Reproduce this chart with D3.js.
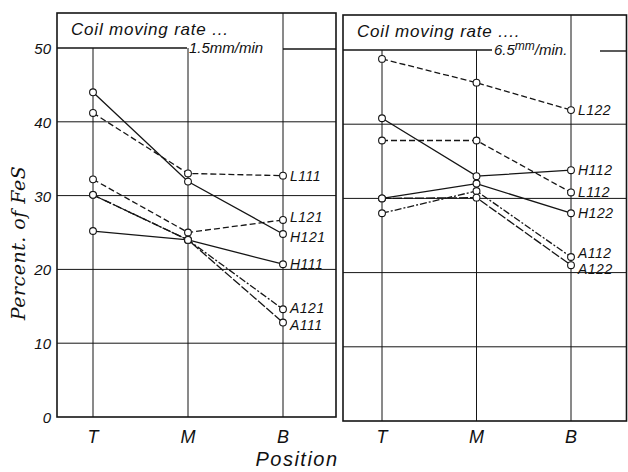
<!DOCTYPE html>
<html>
<head>
<meta charset="utf-8">
<script src="https://cdn.jsdelivr.net/npm/d3@7"></script>
<style>
  body { margin: 0; background: #fff; }
  svg { display: block; }
  text { fill: #111; }
</style>
</head>
<body>
<script>
// positions along the coil
const positions = ["T", "M", "B"];
const yTicks = [0, 10, 20, 30, 40, 50];

// coil moving rate 1.5 mm/min
const leftNames = ["L111", "H121", "L121", "H111", "A121", "A111"];
const leftValues = [
  [41.2, 33.0, 32.7],
  [44.0, 31.9, 24.8],
  [32.2, 25.0, 26.7],
  [25.2, 24.0, 20.7],
  [30.1, 24.0, 14.6],
  [30.1, 24.0, 12.8]
];

// coil moving rate 6.5 mm/min
const rightNames = ["L122", "H112", "L112", "H122", "A112", "A122"];
const rightValues = [
  [48.8, 45.6, 41.9],
  [40.8, 33.0, 33.8],
  [37.8, 37.8, 30.8],
  [30.0, 32.0, 28.0],
  [28.0, 31.0, 22.1],
  [30.0, 30.1, 21.0]
];

const dash = {
  L111: "6,3", L121: "6,3", L122: "6,3", L112: "6,3",
  H111: null, H121: null, H112: null, H122: null,
  A121: "7,2,2,2", A111: "9,2", A112: "7,2,2,2", A122: "9,2"
};

// small vertical nudges so the end labels don't collide
const labelShift = { L121: -3, H121: 3, A121: -1, A111: 2, A112: -4, A122: 4 };

const svg = d3.select("body").append("svg")
  .attr("width", 628)
  .attr("height", 472);

const ink = "#151515";
const hand = "'Liberation Sans', 'DejaVu Sans', sans-serif";

function panel(opt) {
  const x = d3.scalePoint().domain(positions).range([opt.t, opt.b]);
  const y = d3.scaleLinear().domain([0, 50]).range([opt.bottom, opt.top50]);
  const g = svg.append("g");

  // horizontal grid lines 10..40
  g.selectAll(".hg").data(yTicks.filter(d => d > 0 && d < 50)).enter()
    .append("line")
    .attr("x1", opt.left).attr("x2", opt.right)
    .attr("y1", d => y(d)).attr("y2", d => y(d))
    .attr("stroke", ink).attr("stroke-width", 1);

  // vertical grid lines (B runs through the header box)
  g.selectAll(".vg").data(positions).enter()
    .append("line")
    .attr("x1", d => x(d)).attr("x2", d => x(d))
    .attr("y1", d => d === "B" ? opt.top : y(50))
    .attr("y2", opt.bottom)
    .attr("stroke", ink).attr("stroke-width", 1);

  // header line at 50, broken by the rate text
  g.append("line")
    .attr("x1", opt.left).attr("x2", opt.gap[0])
    .attr("y1", y(50)).attr("y2", y(50))
    .attr("stroke", ink).attr("stroke-width", 1.4);
  g.append("line")
    .attr("x1", opt.gap[1]).attr("x2", opt.right)
    .attr("y1", y(50) + 1).attr("y2", y(50) + 1)
    .attr("stroke", ink).attr("stroke-width", 1.4);

  // frame
  g.append("rect")
    .attr("x", opt.left).attr("y", opt.top)
    .attr("width", opt.right - opt.left).attr("height", opt.bottom - opt.top)
    .attr("fill", "none").attr("stroke", ink).attr("stroke-width", 1.6);

  g.append("text")
    .attr("x", opt.left + 14).attr("y", opt.top + 22)
    .attr("font-family", hand).attr("font-style", "italic")
    .attr("font-size", 17).attr("letter-spacing", 0.8)
    .text(opt.title);

  g.append("text")
    .attr("x", opt.gap[0] + 2).attr("y", y(50) + 5)
    .attr("font-family", hand).attr("font-style", "italic")
    .attr("font-size", 15)
    .html(opt.rate);

  const line = d3.line().x((d, i) => x(positions[i])).y(d => y(d));

  opt.names.forEach((name, k) => {
    const vals = opt.values[k];
    g.append("path")
      .attr("d", line(vals))
      .attr("fill", "none")
      .attr("stroke", ink)
      .attr("stroke-width", 1.3)
      .attr("stroke-dasharray", dash[name]);
  });

  opt.names.forEach((name, k) => {
    const vals = opt.values[k];
    g.selectAll(null).data(vals).enter()
      .append("circle")
      .attr("cx", (d, i) => x(positions[i]))
      .attr("cy", d => y(d))
      .attr("r", 3.4)
      .attr("fill", "#fff")
      .attr("stroke", ink)
      .attr("stroke-width", 1.1);
    g.append("text")
      .attr("x", x("B") + 7)
      .attr("y", y(vals[2]) + 5 + (labelShift[name] || 0))
      .attr("font-family", hand).attr("font-style", "italic")
      .attr("font-size", 14)
      .attr("letter-spacing", 0.5)
      .text(name);
  });

  // position labels
  g.selectAll(".xl").data(positions).enter()
    .append("text")
    .attr("x", d => x(d)).attr("y", 443)
    .attr("text-anchor", "middle")
    .attr("font-family", hand).attr("font-style", "italic")
    .attr("font-size", 18)
    .text(d => d);

  return y;
}

const yLeft = panel({
  left: 57, right: 336, top: 13, bottom: 417, top50: 48,
  t: 93, b: 283, gap: [187, 283],
  title: "Coil moving rate ...",
  rate: "1.5mm/min",
  names: leftNames, values: leftValues
});

panel({
  left: 343, right: 626.5, top: 15, bottom: 421, top50: 50,
  t: 382, b: 571, gap: [492, 600],
  title: "Coil moving rate ....",
  rate: "6.5<tspan dy='-5' font-size='12'>mm</tspan><tspan dy='5'>/min.</tspan>",
  names: rightNames, values: rightValues
});

// y tick labels
svg.append("g").selectAll("text").data(yTicks).enter()
  .append("text")
  .attr("x", 51).attr("y", d => yLeft(d) + 6)
  .attr("text-anchor", "end")
  .attr("font-family", hand).attr("font-style", "italic")
  .attr("font-size", 15)
  .text(d => d);

svg.append("text")
  .attr("transform", "translate(25,243) rotate(-90)")
  .attr("text-anchor", "middle")
  .attr("font-family", "'DejaVu Serif', serif").attr("font-style", "italic")
  .attr("font-size", 19)
  .attr("letter-spacing", 0.5)
  .text("Percent. of FeS");

svg.append("text")
  .attr("x", 297).attr("y", 466)
  .attr("text-anchor", "middle")
  .attr("font-family", hand).attr("font-style", "italic")
  .attr("font-size", 20)
  .attr("letter-spacing", 1.5)
  .text("Position");
</script>
</body>
</html>
